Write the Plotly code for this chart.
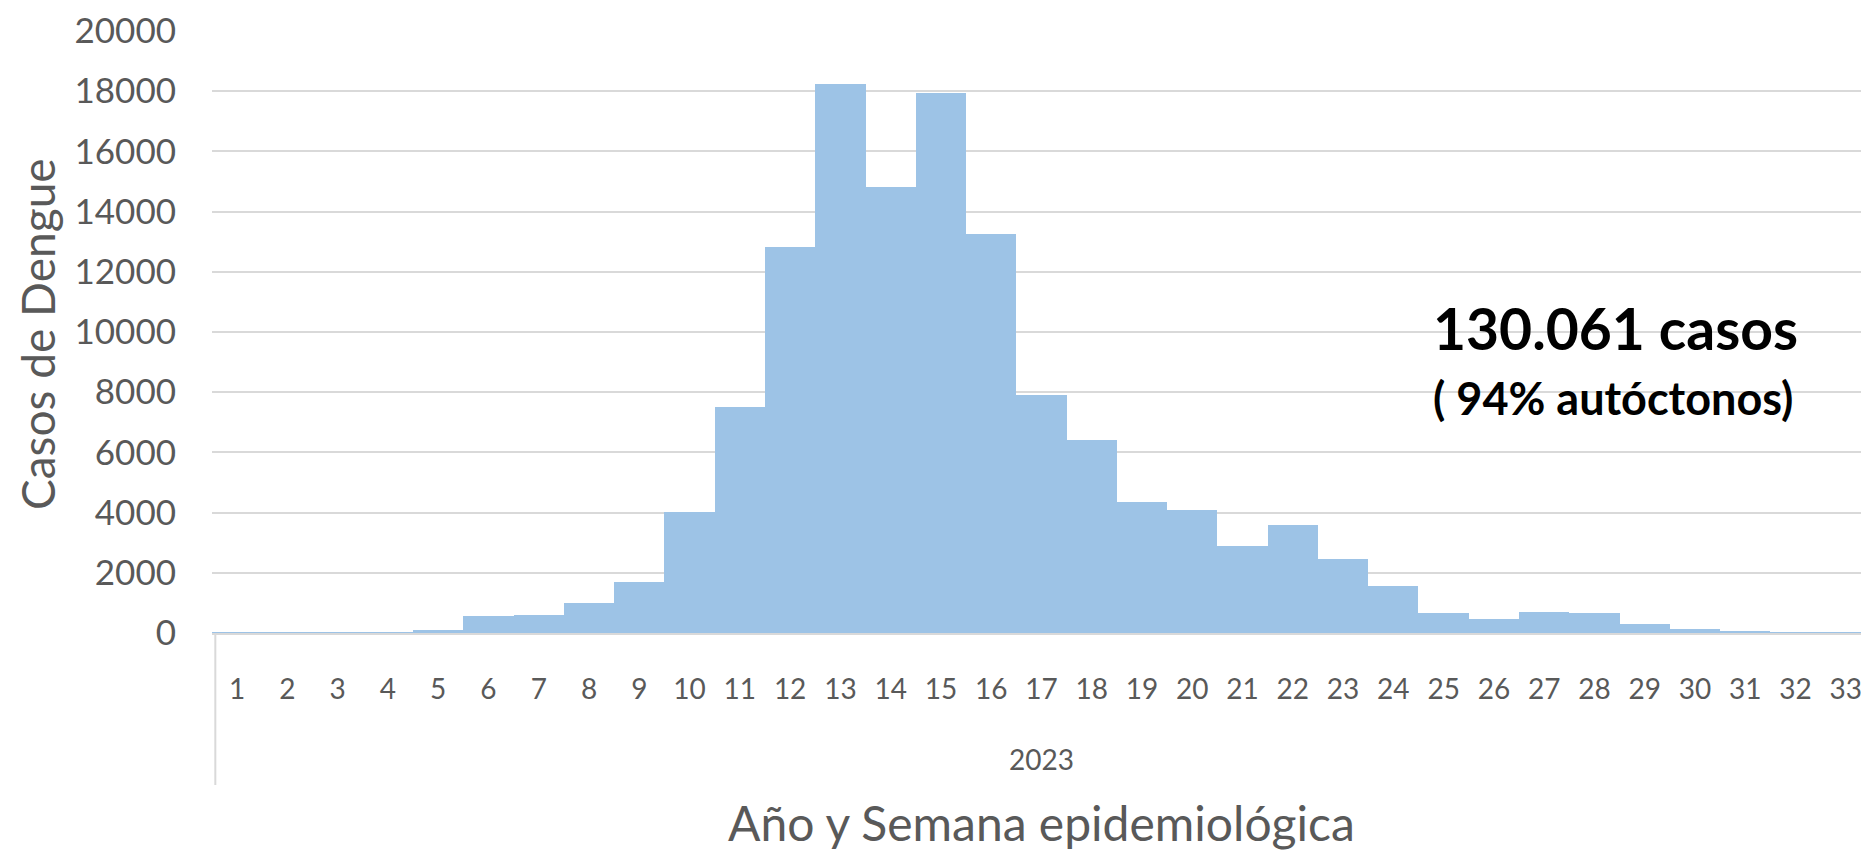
import plotly.graph_objects as go

weeks = [str(i) for i in range(1, 34)]
casos = [10, 10, 25, 30, 100, 565, 600, 1000, 1700, 4020, 7520, 12820, 18240, 14820,
         17940, 13260, 7920, 6410, 4350, 4090, 2890, 3590, 2460, 1570, 660, 460, 700,
         660, 300, 130, 40, 30, 20]
year_label = "2023"
y_ticks = list(range(0, 20001, 2000))
total_text = "130.061 casos"
sub_text = "( 94% autóctonos)"

# page has an 8px body margin; figure coordinates are page coordinates minus 8
OFF = 8
W, H = 1869 - OFF, 851 - OFF
L, R, T, B = 212 - OFF, 0, 31 - OFF, 218
plot_w = W - L - R
plot_h = H - T - B
cat_w = 50.27
x_end = -0.5 + plot_w / cat_w
Y0 = 633  # page y of value 0


def ydom(page_y):
    return (Y0 - page_y) / plot_h


def xdom(page_x):
    return (page_x - 212) / plot_w


grey = "#595959"
grid = "#d9d9d9"

fig = go.Figure()
fig.add_trace(go.Bar(x=list(range(len(weeks))), y=casos, marker=dict(color="#9dc3e6", line=dict(width=0)),
                     hoverinfo="y"))

fig.update_layout(
    width=W, height=H,
    margin=dict(l=L, r=R, t=T, b=B),
    paper_bgcolor="white", plot_bgcolor="white",
    bargap=0, showlegend=False,
    font=dict(family="Lato, Calibri, sans-serif", color=grey),
)
fig.update_xaxes(
    range=[-0.5, x_end], tickmode="array", tickvals=list(range(len(weeks))), ticktext=weeks,
    showgrid=False, zeroline=False, showline=True, linecolor=grid, linewidth=2,
    ticks="outside", ticklen=30, tickcolor="rgba(0,0,0,0)",
    tickfont=dict(size=28, color=grey, family="Lato, Calibri, sans-serif"),
)
fig.update_yaxes(
    range=[0, 20000], tickmode="array", tickvals=y_ticks, ticktext=[str(v) for v in y_ticks],
    showgrid=True, gridcolor=grid, gridwidth=2, zeroline=False, showline=False,
    ticks="outside", ticklen=28, tickcolor="rgba(0,0,0,0)",
    tickfont=dict(size=35, color=grey, family="Lato, Calibri, sans-serif"),
)

# multi-level category box: left vertical line below axis
fig.add_shape(type="line", xref="x domain", yref="y domain", x0=0.002, x1=0.002, y0=0, y1=ydom(785),
              line=dict(color=grid, width=2))

fig.add_annotation(text=year_label, xref="x", yref="y domain", x=16, y=ydom(759),
                   showarrow=False, yanchor="middle", xanchor="center",
                   font=dict(size=28, color=grey))
fig.add_annotation(text="Año y Semana epidemiológica", xref="x", yref="y domain", x=16, y=ydom(822),
                   showarrow=False, yanchor="middle", xanchor="center",
                   font=dict(size=48, color=grey))
fig.add_annotation(text="Casos de Dengue", xref="x domain", yref="y domain", x=xdom(37),
                   y=ydom(334), showarrow=False, textangle=-90, xanchor="center", yanchor="middle",
                   font=dict(size=46, color=grey))
fig.add_annotation(text="<b>" + total_text + "</b>", xref="x domain", yref="y domain",
                   x=xdom(1431), y=ydom(328), showarrow=False,
                   xanchor="left", yanchor="middle", font=dict(size=57, color="black"))
fig.add_annotation(text="<b>" + sub_text + "</b>", xref="x domain", yref="y domain",
                   x=xdom(1431), y=ydom(398), showarrow=False,
                   xanchor="left", yanchor="middle", font=dict(size=45, color="black"))

fig.write_html("out.html")
